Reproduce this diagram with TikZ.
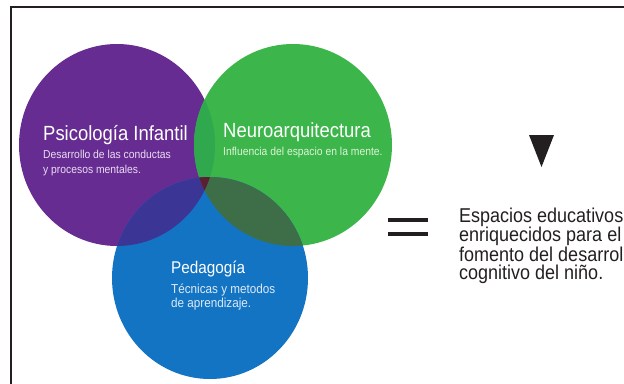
\documentclass[tikz,border=0pt]{standalone}
\usepackage{fontspec}
\setmainfont{Liberation Sans}[FakeStretch=0.9]
\definecolor{morado}{HTML}{672C91}
\definecolor{verde}{HTML}{3CB64A}
\definecolor{azul}{HTML}{1474C4}
\definecolor{moradoverde}{HTML}{30A84E}
\definecolor{moradoazul}{HTML}{3B3596}
\definecolor{verdeazul}{HTML}{3E6E48}
\definecolor{centro}{HTML}{5A1F33}
\definecolor{tinta}{HTML}{231F20}
\definecolor{subpsico}{HTML}{E9DDF2}
\definecolor{subneuro}{HTML}{DDF3D8}
\definecolor{subpeda}{HTML}{DCEAF8}
\newcommand{\cpsico}{(117,145) ellipse [x radius=98, y radius=101]}
\newcommand{\cneuro}{(293,145) ellipse [x radius=99, y radius=101]}
\newcommand{\cpeda}{(210,278) ellipse [x radius=98, y radius=101]}
\tikzset{
  titulo/.style={text=white, font=\fontsize{20.5}{22}\selectfont, anchor=base west, inner sep=0pt},
  subtitulo/.style={font=\fontsize{11.5}{15}\selectfont, anchor=north west, align=left, inner sep=0pt},
}
\begin{document}
\begin{tikzpicture}[x=1pt,y=-1pt]
    \useasboundingbox (0,0) rectangle (624,383);
    % Marco
    \draw[line width=2.5pt, tinta] (11,390) -- (11,7) -- (630,7);

    % Circulos
    \fill[morado] \cpsico;
    \fill[verde] \cneuro;
    \fill[azul] \cpeda;

    % Intersecciones
    \begin{scope}
        \clip \cpsico;
        \fill[moradoverde] \cneuro;
        \fill[moradoazul] \cpeda;
        \clip \cneuro;
        \fill[centro] \cpeda;
    \end{scope}
    \begin{scope}
        \clip \cneuro;
        \fill[verdeazul] \cpeda;
        \clip \cpsico;
        \fill[centro] \cpeda;
    \end{scope}

    % Textos
    \node[titulo] (psico) at (43,140) {Psicología Infantil};
    \node[subtitulo, text=subpsico] (psicosub) at (43,149.5) {Desarrollo de las conductas\\y procesos mentales.};
    \node[titulo] (neuro) at (223,137) {Neuroarquitectura};
    \node[subtitulo, text=subneuro] (neurosub) at (223,146.5) {Influencia del espacio en la mente.};
    \node[titulo, font=\fontsize{17}{19}\selectfont] (peda) at (171,273) {Pedagogía};
    \node[subtitulo, text=subpeda, font=\fontsize{13}{14}\selectfont] (pedasub) at (171,283.5) {Técnicas y metodos\\de aprendizaje.};

    % Resultado
    \fill[tinta] (529,135) -- (554,135) -- (541.5,167) -- cycle;
    \draw[line width=3.5pt, tinta] (388,220) -- (428,220);
    \draw[line width=3.5pt, tinta] (388,234) -- (428,234);
    \node[anchor=north west, inner sep=0pt, align=left, text=tinta,
          font=\fontsize{20}{18.3}\selectfont] (resultado) at (459,207.5)
          {Espacios educativos\\enriquecidos para el\\fomento del desarrollo\\cognitivo del niño.};
\end{tikzpicture}
\end{document}
